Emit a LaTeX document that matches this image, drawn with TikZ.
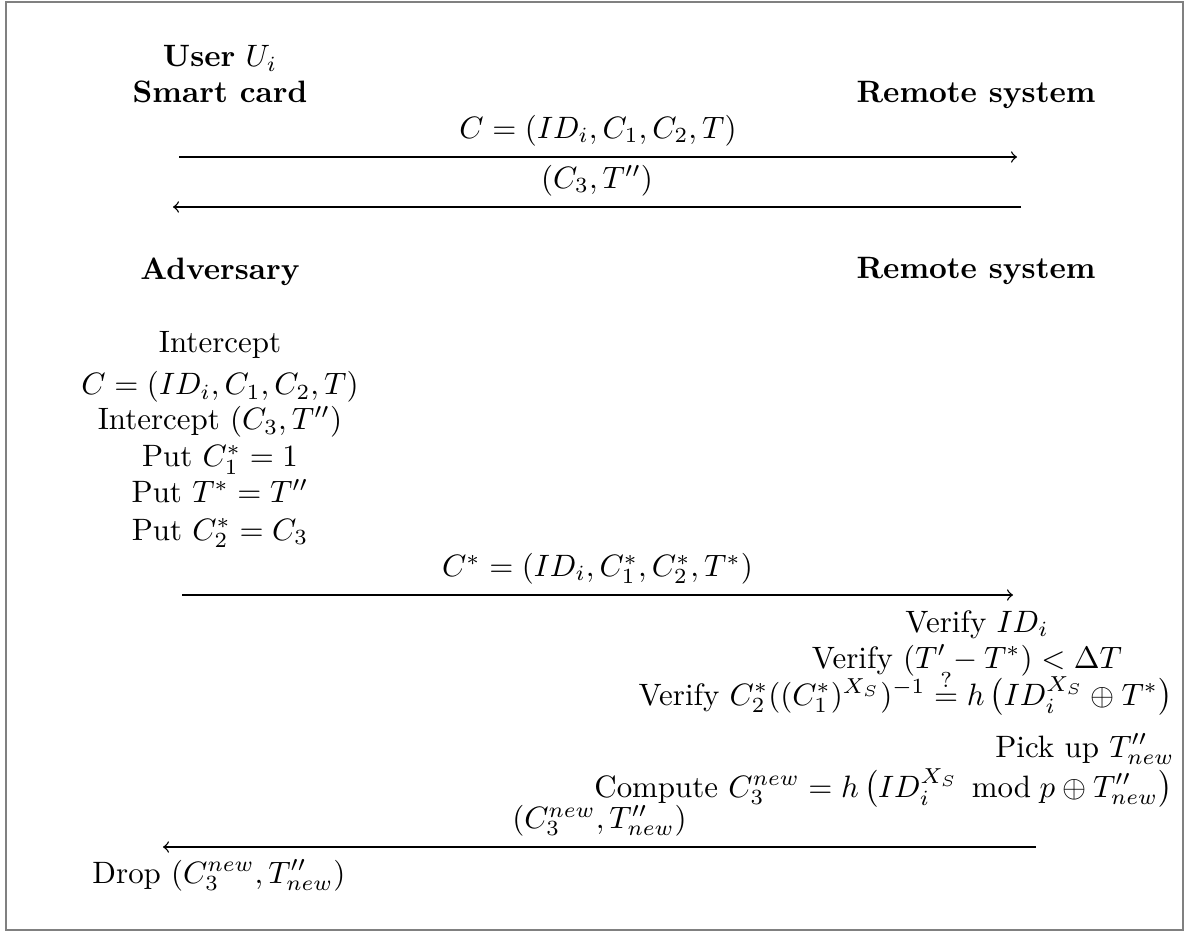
\documentclass[tikz,border=0pt]{standalone}
\usepackage{amsmath}
\begin{document}
\begin{tikzpicture}[x=0.3233pt, y=-0.3233pt,
  txt/.style={anchor=base, inner sep=0pt},
  txtr/.style={anchor=base east, inner sep=0pt},
  hdr/.style={txt, font=\bfseries},
  msg/.style={->, line width=0.45pt},
  frame/.style={draw=gray, line width=0.65pt}]
\useasboundingbox (0,0) rectangle (1189,932);
\draw[frame] (6,2) rectangle (1183,930);

% first run: legitimate user and remote system
\node[txt] (user) at (220,67) {\textbf{User} $U_i$};
\node[hdr] (card) at (220,103) {Smart card};
\node[hdr] (rs1) at (976,103) {Remote system};

\coordinate (m1s) at (179,157);
\coordinate (m1e) at (1017,157);
\coordinate (m2s) at (1021,207);
\coordinate (m2e) at (173,207);
\draw[msg] (m1s) -- node[above] {$C=(ID_i,C_1,C_2,T)$} (m1e);
\draw[msg] (m2s) -- node[above] {$(C_3,T'')$} (m2e);

% second run: adversary and remote system
\node[hdr] (adv) at (220,280) {Adversary};
\node[hdr] (rs2) at (976,279) {Remote system};

\node[txt] (a1) at (220,353) {Intercept};
\node[txt] (a2) at (220,395) {$C=(ID_i,C_1,C_2,T)$};
\node[txt] (a3) at (220,430) {Intercept $(C_3,T'')$};
\node[txt] (a4) at (220,467) {Put $C_1^*=1$};
\node[txt] (a5) at (220,503) {Put $T^*=T''$};
\node[txt] (a6) at (220,540) {Put $C_2^*=C_3$};

\coordinate (m3s) at (182,595);
\coordinate (m3e) at (1013,595);
\draw[msg] (m3s) -- node[above] {$C^*=(ID_i,C_1^*,C_2^*,T^*)$} (m3e);

\node[txt] (r1) at (977,632) {Verify $ID_i$};
\node[txt] (r2) at (967,668) {Verify $(T'-T^*)<\Delta T$};
\node[txtr] (r3) at (1173,705) {Verify $C_2^*((C_1^*)^{X_S})^{-1}\stackrel{?}{=}h\mathinner{\bigl(ID_i^{X_S}\oplus T^*\bigr)}$};
\node[txtr] (r4) at (1175,757) {Pick up $T''_{new}$};
\node[txtr] (r5) at (1173,797) {Compute $C_3^{new}=h\mathinner{\bigl(ID_i^{X_S}\mskip8mu\mathrm{mod}\mskip5mu p\oplus T''_{new}\bigr)}$};

\coordinate (m4s) at (1036,847);
\coordinate (m4e) at (163,847);
\draw[msg] (m4s) -- node[above] {$(C_3^{new},T''_{new})$} (m4e);

\node[txt] (drop) at (219,883) {Drop $(C_3^{new},T''_{new})$};
\end{tikzpicture}
\end{document}
